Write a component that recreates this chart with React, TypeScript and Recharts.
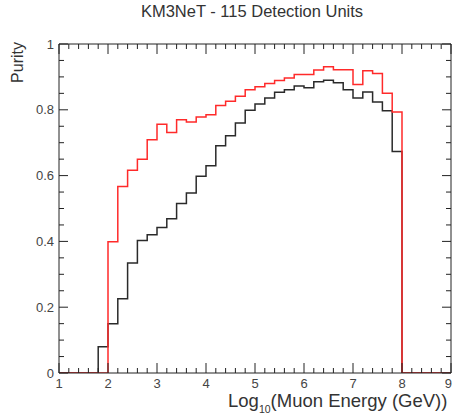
import { ComposedChart, Line, XAxis, YAxis } from 'recharts';

// lower edges of the 0.2-wide log10(E) bins that hold data
const binEdges = [
    1.8, 2.0, 2.2, 2.4, 2.6, 2.8, 3.0, 3.2, 3.4, 3.6, 3.8, 4.0, 4.2, 4.4, 4.6, 4.8,
    5.0, 5.2, 5.4, 5.6, 5.8, 6.0, 6.2, 6.4, 6.6, 6.8, 7.0, 7.2, 7.4, 7.6, 7.8,
];
const purityBlack = [
    0.08, 0.15, 0.226, 0.334, 0.403, 0.42, 0.442, 0.469, 0.515, 0.547, 0.598, 0.63, 0.691, 0.721, 0.76, 0.799,
    0.818, 0.836, 0.853, 0.861, 0.872, 0.867, 0.885, 0.89, 0.882, 0.861, 0.836, 0.854, 0.824, 0.797, 0.673,
];
const purityRed = [
    0, 0.399, 0.567, 0.616, 0.65, 0.709, 0.756, 0.731, 0.77, 0.763, 0.778, 0.785, 0.813, 0.826, 0.841, 0.861,
    0.87, 0.88, 0.889, 0.897, 0.907, 0.907, 0.921, 0.931, 0.922, 0.922, 0.877, 0.919, 0.91, 0.85, 0.793,
];
const histRange = [1, 8, 9]; // axis start, last bin upper edge, axis end

const xMajor = [1, 2, 3, 4, 5, 6, 7, 8, 9];
const yMajor = [0, 0.2, 0.4, 0.6, 0.8, 1];
const xMinorStep = 0.2;
const yMinorStep = 0.05;

const FONT = '"Liberation Sans", Arial, Helvetica, sans-serif';
const AXIS = '#222';

const rows = [
    { x: histRange[0], black: 0, red: 0 },
    ...binEdges.map((x, i) => ({ x, black: purityBlack[i], red: purityRed[i] })),
    { x: histRange[1], black: 0, red: 0 },
    { x: histRange[2], black: 0, red: 0 },
];

const withMinor = (major: number[], step: number) => {
    const out: number[] = [];
    const n = Math.round((major[major.length - 1] - major[0]) / step);
    for (let i = 0; i <= n; i++) out.push(+(major[0] + i * step).toFixed(4));
    return out;
};
const xTicks = withMinor(xMajor, xMinorStep);
const yTicks = withMinor(yMajor, yMinorStep);

const isMajor = (v: number, major: number[]) => major.some((m) => Math.abs(m - v) < 1e-6);

function BottomTick({ x, y, payload }: any) {
    const major = isMajor(payload.value, xMajor);
    // last label sits on the right frame edge, keep it inside the page
    const last = Math.abs(payload.value - xMajor[xMajor.length - 1]) < 1e-6;
    return (
        <g>
            <line x1={x} y1={y} x2={x} y2={y - (major ? 10 : 5)} stroke={AXIS} strokeWidth={1} />
            {major && (
                <text
                    x={last ? x + 1 : x}
                    y={y + 15}
                    textAnchor={last ? 'end' : 'middle'}
                    fontSize={13}
                    fill="#444"
                    fontFamily={FONT}
                >
                    {payload.value}
                </text>
            )}
        </g>
    );
}

function TopTick({ x, y, payload }: any) {
    const major = isMajor(payload.value, xMajor);
    return <line x1={x} y1={y} x2={x} y2={y + (major ? 10 : 5)} stroke={AXIS} strokeWidth={1} />;
}

function LeftTick({ x, y, payload }: any) {
    const major = isMajor(payload.value, yMajor);
    return (
        <g>
            <line x1={x} y1={y} x2={x + (major ? 9 : 5)} y2={y} stroke={AXIS} strokeWidth={1} />
            {major && (
                <text x={x - 5} y={y + 4.5} textAnchor="end" fontSize={13} fill="#444" fontFamily={FONT}>
                    {String(+payload.value.toFixed(2))}
                </text>
            )}
        </g>
    );
}

function RightTick({ x, y, payload }: any) {
    const major = isMajor(payload.value, yMajor);
    return <line x1={x} y1={y} x2={x - (major ? 9 : 5)} y2={y} stroke={AXIS} strokeWidth={1} />;
}

export default function App() {
    return (
        <div style={{ position: 'absolute', left: 0, top: 0, width: 452, height: 417, background: '#fff' }}>
            <ComposedChart width={452} height={417} data={rows} margin={{ top: 0, right: 0, bottom: 0, left: 0 }}>
                <XAxis
                    xAxisId="bottom"
                    dataKey="x"
                    type="number"
                    domain={[1, 9]}
                    allowDataOverflow
                    ticks={xTicks}
                    interval={0}
                    height={44}
                    tickSize={0}
                    tickMargin={0}
                    axisLine={{ stroke: AXIS }}
                    tickLine={false}
                    tick={(p: any) => <BottomTick {...p} />}
                />
                <XAxis
                    xAxisId="top"
                    orientation="top"
                    dataKey="x"
                    type="number"
                    domain={[1, 9]}
                    allowDataOverflow
                    ticks={xTicks}
                    interval={0}
                    height={44}
                    tickSize={0}
                    tickMargin={0}
                    axisLine={{ stroke: AXIS }}
                    tickLine={false}
                    tick={(p: any) => <TopTick {...p} />}
                />
                <YAxis
                    yAxisId="left"
                    type="number"
                    domain={[0, 1]}
                    allowDataOverflow
                    ticks={yTicks}
                    interval={0}
                    width={59}
                    tickSize={0}
                    tickMargin={0}
                    axisLine={{ stroke: AXIS }}
                    tickLine={false}
                    tick={(p: any) => <LeftTick {...p} />}
                />
                <YAxis
                    yAxisId="right"
                    orientation="right"
                    type="number"
                    domain={[0, 1]}
                    allowDataOverflow
                    ticks={yTicks}
                    interval={0}
                    width={1}
                    tickSize={0}
                    tickMargin={0}
                    axisLine={{ stroke: AXIS }}
                    tickLine={false}
                    tick={(p: any) => <RightTick {...p} />}
                />
                <Line
                    xAxisId="bottom"
                    yAxisId="left"
                    type="stepAfter"
                    dataKey="black"
                    stroke="#2a2a2a"
                    strokeWidth={1.5}
                    dot={false}
                    activeDot={false}
                    isAnimationActive={false}
                />
                <Line
                    xAxisId="bottom"
                    yAxisId="left"
                    type="stepAfter"
                    dataKey="red"
                    stroke="#ff2a2a"
                    strokeWidth={1.5}
                    dot={false}
                    activeDot={false}
                    isAnimationActive={false}
                />
            </ComposedChart>
            <svg width={452} height={417} style={{ position: 'absolute', left: 0, top: 0, pointerEvents: 'none' }}>
                <text x={252} y={17} textAnchor="middle" fontSize={16.5} fill="#333" fontFamily={FONT}>
                    KM3NeT - 115 Detection Units
                </text>
                <text transform="translate(23,42) rotate(-90)" textAnchor="end" fontSize={16} fill="#333" fontFamily={FONT}>
                    Purity
                </text>
                <text x={228} y={407} fontSize={18.5} fill="#333" fontFamily={FONT}>
                    Log
                    <tspan fontSize={10.5} dy={6}>10</tspan>
                    <tspan dy={-6}>(Muon Energy (GeV))</tspan>
                </text>
            </svg>
        </div>
    );
}
